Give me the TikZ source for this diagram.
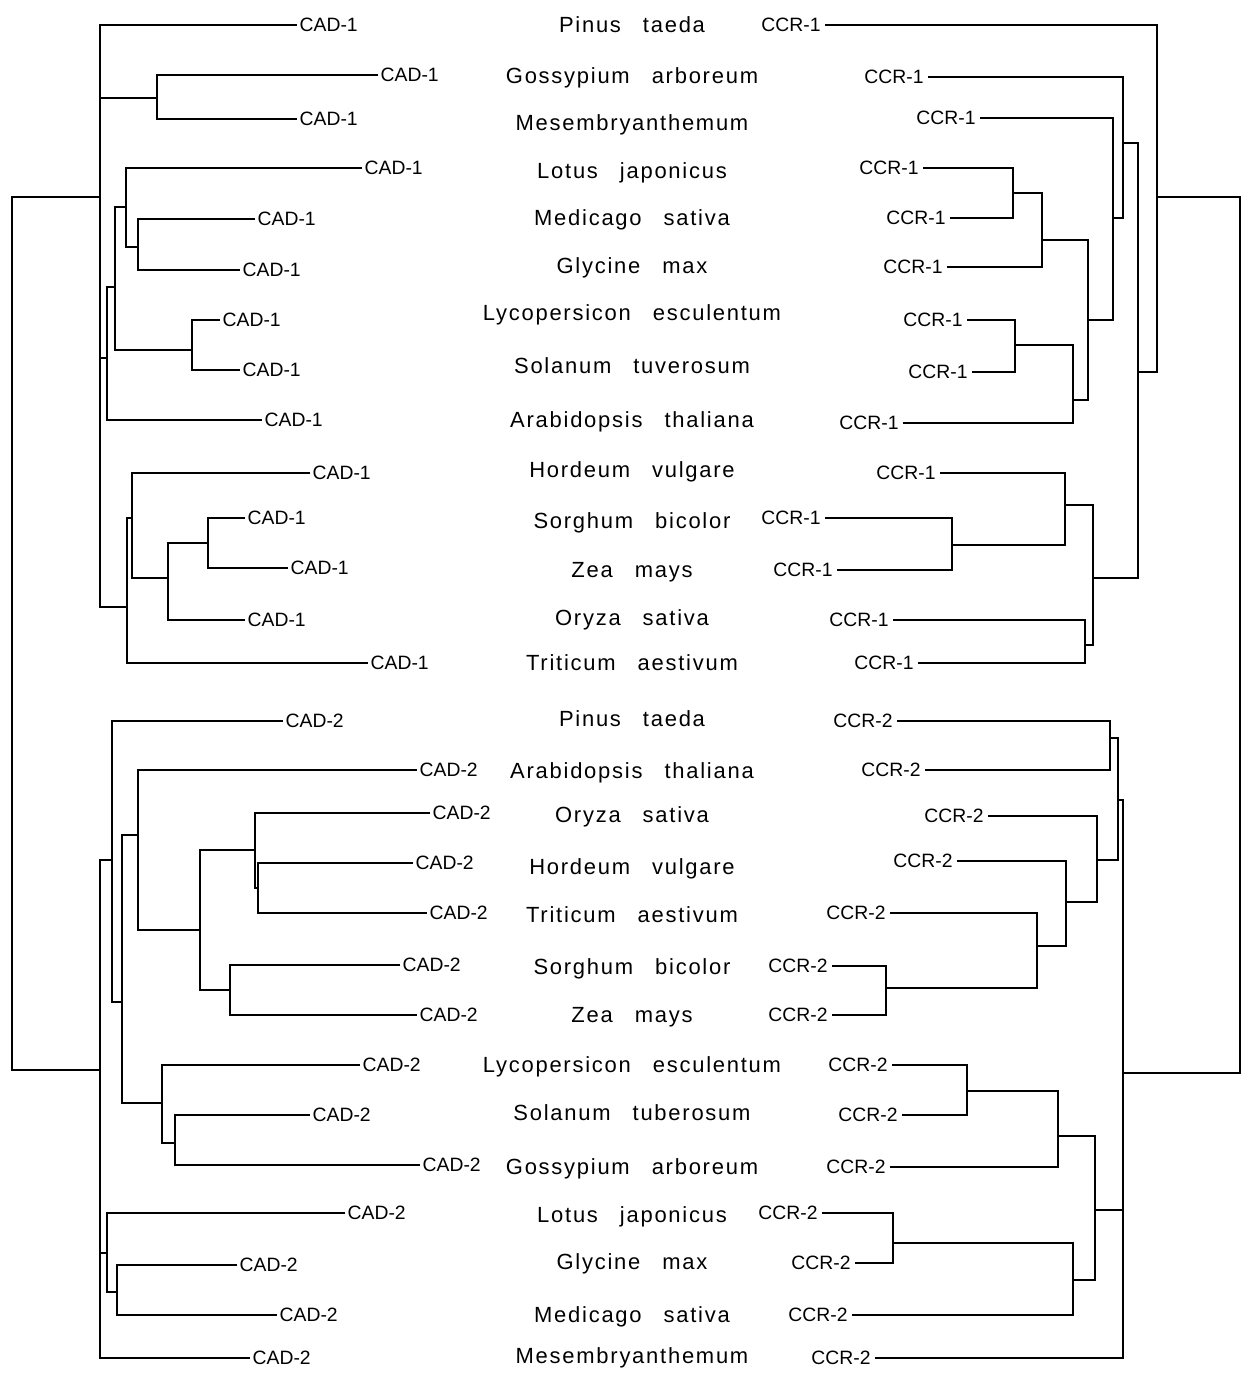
\documentclass[tikz,border=0pt]{standalone}
\usepackage{fontspec}
\setmainfont{Liberation Sans}
\newfontfamily\speciesfont[LetterSpace=8,WordSpace=2.8]{Liberation Sans}

\begin{document}
\begin{tikzpicture}[x=.02cm,y=-.02cm,line width=1.1pt,
    species/.style={anchor=base,inner sep=0pt,font=\speciesfont\fontsize{12.5}{14}\selectfont},
    cad/.style={anchor=west,inner sep=1pt,font=\fontsize{11}{12}\selectfont},
    ccr/.style={anchor=east,inner sep=2pt,font=\fontsize{11}{12}\selectfont}]
    \useasboundingbox (0,0) rectangle (1246,1374);
    % species names
    \foreach \y/\t [count=\i] in {32/Pinus taeda,83/Gossypium arboreum,130/Mesembryanthemum,
      178/Lotus japonicus,225/Medicago sativa,273/Glycine max,320/Lycopersicon esculentum,
      373/Solanum tuverosum,427/Arabidopsis thaliana,477/Hordeum vulgare,528/Sorghum bicolor,
      577/Zea mays,625/Oryza sativa,670/Triticum aestivum} {
      \node[species] (sa\i) at (632,\y) {\t};
    }
    \foreach \y/\t [count=\i] in {726/Pinus taeda,778/Arabidopsis thaliana,822/Oryza sativa,
      874/Hordeum vulgare,922/Triticum aestivum,974/Sorghum bicolor,1022/Zea mays,
      1072/Lycopersicon esculentum,1120/Solanum tuberosum,1174/Gossypium arboreum,
      1222/Lotus japonicus,1269/Glycine max,1322/Medicago sativa,1363/Mesembryanthemum} {
      \node[species] (sb\i) at (632,\y) {\t};
    }
    % CAD-1
    \foreach \s/\x/\y in {pin/297/25,gos/378/75,mes/297/119,lot/362/168,med/255/219,gly/240/270,
      lyc/220/320,sol/240/370,ara/262/420,hor/310/473,sor/245/518,zea/288/568,ory/245/620,tri/368/663} {
      \node[cad] (a-\s) at (\x,\y) {CAD-1};
    }
    \coordinate (a1) at (157,98);
    \coordinate (a2) at (138,247);
    \coordinate (a3) at (126,207);
    \coordinate (a4) at (192,350);
    \coordinate (a5) at (115,287);
    \coordinate (a6) at (107,358);
    \coordinate (a7) at (208,543);
    \coordinate (a8) at (168,578);
    \coordinate (a9) at (132,518);
    \coordinate (a10) at (127,607);
    \coordinate (a11) at (100,197);
    \draw (a-gos.west) -| (a1) |- (a-mes.west);
    \draw (a-med.west) -| (a2) |- (a-gly.west);
    \draw (a-lot.west) -| (a3) |- (a2);
    \draw (a-lyc.west) -| (a4) |- (a-sol.west);
    \draw (a3) -| (a5) |- (a4);
    \draw (a5) -| (a6) |- (a-ara.west);
    \draw (a-sor.west) -| (a7) |- (a-zea.west);
    \draw (a7) -| (a8) |- (a-ory.west);
    \draw (a-hor.west) -| (a9) |- (a8);
    \draw (a9) -| (a10) |- (a-tri.west);
    \draw (a-pin.west) -| (a11) |- (a10);
    \draw (a1) -- (a1 -| a11);
    \draw (a6) -- (a6 -| a11);
    % CAD-2
    \foreach \s/\x/\y in {pin/283/721,ara/417/770,ory/430/813,hor/413/863,tri/427/913,sor/400/965,
      zea/417/1015,lyc/360/1065,sol/310/1115,gos/420/1165,lot/345/1213,gly/237/1265,med/277/1315,mes/250/1358} {
      \node[cad] (b-\s) at (\x,\y) {CAD-2};
    }
    \coordinate (b1) at (258,888);
    \coordinate (b2) at (255,850);
    \coordinate (b3) at (230,990);
    \coordinate (b4) at (200,930);
    \coordinate (b5) at (138,835);
    \coordinate (b6) at (175,1143);
    \coordinate (b7) at (162,1103);
    \coordinate (b8) at (122,1002);
    \coordinate (b9) at (112,860);
    \coordinate (b10) at (117,1292);
    \coordinate (b11) at (107,1253);
    \coordinate (b12) at (100,1070);
    \draw (b-hor.west) -| (b1) |- (b-tri.west);
    \draw (b-ory.west) -| (b2) |- (b1);
    \draw (b-sor.west) -| (b3) |- (b-zea.west);
    \draw (b2) -| (b4) |- (b3);
    \draw (b-ara.west) -| (b5) |- (b4);
    \draw (b-sol.west) -| (b6) |- (b-gos.west);
    \draw (b-lyc.west) -| (b7) |- (b6);
    \draw (b5) -| (b8) |- (b7);
    \draw (b-pin.west) -| (b9) |- (b8);
    \draw (b-gly.west) -| (b10) |- (b-med.west);
    \draw (b-lot.west) -| (b11) |- (b10);
    \draw (b9) -| (b12) |- (b-mes.west);
    \draw (b11) -- (b11 -| b12);
    \coordinate (lroot) at (12,630);
    \draw (a11) -| (lroot) |- (b12);
    % CCR-1
    \foreach \s/\x/\y in {pin/825/25,gos/928/77,mes/980/118,lot/923/168,med/950/218,gly/947/267,
      lyc/967/320,sol/972/372,ara/903/423,hor/940/473,sor/825/518,zea/837/570,ory/893/620,tri/918/663} {
      \node[ccr] (c-\s) at (\x,\y) {CCR-1};
    }
    \coordinate (c1) at (1013,193);
    \coordinate (c2) at (1042,240);
    \coordinate (c3) at (1015,345);
    \coordinate (c4) at (1073,400);
    \coordinate (c5) at (1088,320);
    \coordinate (c6) at (1113,218);
    \coordinate (c7) at (1123,143);
    \coordinate (c8) at (952,545);
    \coordinate (c9) at (1065,505);
    \coordinate (c10) at (1085,645);
    \coordinate (c11) at (1093,578);
    \coordinate (c12) at (1138,372);
    \coordinate (c13) at (1157,197);
    \draw (c-lot.east) -| (c1) |- (c-med.east);
    \draw (c1) -| (c2) |- (c-gly.east);
    \draw (c-lyc.east) -| (c3) |- (c-sol.east);
    \draw (c3) -| (c4) |- (c-ara.east);
    \draw (c2) -| (c5) |- (c4);
    \draw (c-mes.east) -| (c6) |- (c5);
    \draw (c-gos.east) -| (c7) |- (c6);
    \draw (c-sor.east) -| (c8) |- (c-zea.east);
    \draw (c-hor.east) -| (c9) |- (c8);
    \draw (c-ory.east) -| (c10) |- (c-tri.east);
    \draw (c9) -| (c11) |- (c10);
    \draw (c7) -| (c12) |- (c11);
    \draw (c-pin.east) -| (c13) |- (c12);
    % CCR-2
    \foreach \s/\x/\y in {pin/897/721,ara/925/770,ory/988/816,hor/957/861,tri/890/913,sor/832/966,
      zea/832/1015,lyc/892/1065,sol/902/1115,gos/890/1167,lot/822/1213,gly/855/1263,med/852/1315,mes/875/1358} {
      \node[ccr] (d-\s) at (\x,\y) {CCR-2};
    }
    \coordinate (d1) at (1110,738);
    \coordinate (d2) at (886,988);
    \coordinate (d3) at (1037,946);
    \coordinate (d4) at (1066,902);
    \coordinate (d5) at (1097,860);
    \coordinate (d6) at (1118,800);
    \coordinate (d7) at (967,1091);
    \coordinate (d8) at (1058,1136);
    \coordinate (d9) at (893,1243);
    \coordinate (d10) at (1073,1280);
    \coordinate (d11) at (1095,1210);
    \coordinate (d12) at (1123,1073);
    \draw (d-pin.east) -| (d1) |- (d-ara.east);
    \draw (d-sor.east) -| (d2) |- (d-zea.east);
    \draw (d-tri.east) -| (d3) |- (d2);
    \draw (d-hor.east) -| (d4) |- (d3);
    \draw (d-ory.east) -| (d5) |- (d4);
    \draw (d1) -| (d6) |- (d5);
    \draw (d-lyc.east) -| (d7) |- (d-sol.east);
    \draw (d7) -| (d8) |- (d-gos.east);
    \draw (d-lot.east) -| (d9) |- (d-gly.east);
    \draw (d9) -| (d10) |- (d-med.east);
    \draw (d8) -| (d11) |- (d10);
    \draw (d6) -| (d12) |- (d-mes.east);
    \draw (d11) -- (d11 -| d12);
    \coordinate (rroot) at (1240,630);
    \draw (c13) -| (rroot) |- (d12);
  \end{tikzpicture}
\end{document}
